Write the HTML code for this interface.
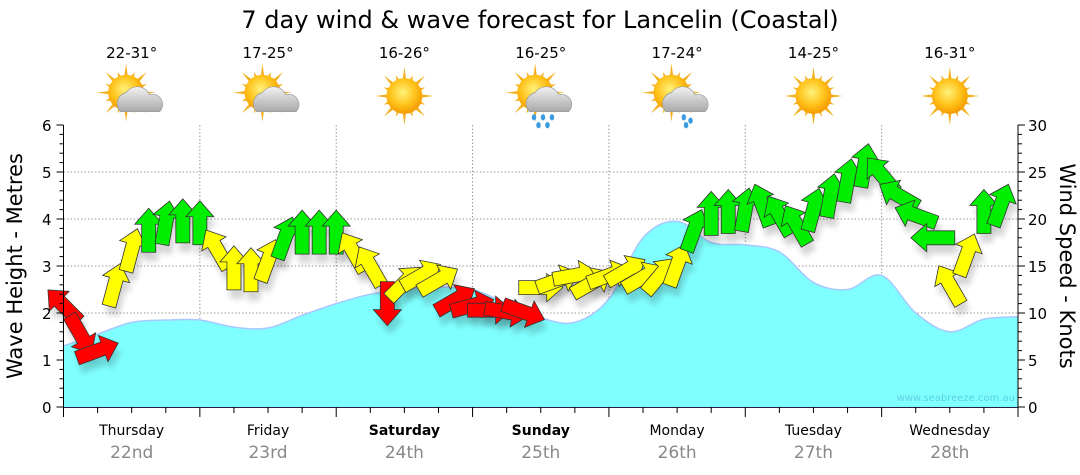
<!DOCTYPE html>
<html><head><meta charset="utf-8">
<style>
html,body{margin:0;padding:0;background:#fff;}
svg{display:block;font-family:"DejaVu Sans","Liberation Sans",sans-serif;}
</style></head>
<body>
<svg id="chart" width="1080" height="475" viewBox="0 0 1080 475" xmlns="http://www.w3.org/2000/svg">
<defs>
<filter id="sh" x="-50%" y="-50%" width="200%" height="200%"><feGaussianBlur stdDeviation="3"/></filter>
<radialGradient id="sun" cx="45%" cy="40%" r="60%"><stop offset="0" stop-color="#fff27a"/><stop offset="0.6" stop-color="#ffc21a"/><stop offset="1" stop-color="#f39a00"/></radialGradient>
<linearGradient id="cloud" x1="0" y1="0" x2="0" y2="1"><stop offset="0" stop-color="#f2f2f2"/><stop offset="1" stop-color="#a8a8a8"/></linearGradient>
</defs>
<text x="540" y="28" text-anchor="middle" font-size="24" fill="#000">7 day wind &amp; wave forecast for Lancelin (Coastal)</text>
<g id="icons"></g>
<g id="grid"></g>
<g id="wave"></g>
<g id="arrows"></g>
<g id="axes"></g>
<text x="1015" y="401" text-anchor="end" font-size="10" fill="#5ccfe0">www.seabreeze.com.au</text>
<text transform="translate(22,266) rotate(-90)" text-anchor="middle" font-size="21" fill="#000">Wave Height - Metres</text>
<text transform="translate(1060,266) rotate(90)" text-anchor="middle" font-size="21" fill="#000">Wind Speed - Knots</text>
</svg>
<script>
const days=["Thursday","Friday","Saturday","Sunday","Monday","Tuesday","Wednesday"];
const dates=["22nd","23rd","24th","25th","26th","27th","28th"];
const boldDays=[false,false,true,true,false,false,false];
const temps=["22-31°","17-25°","16-26°","16-25°","17-24°","14-25°","16-31°"];
const weather=["partly","partly","sun","rain","showers","sun","sun"];
const waveHours=[0,6,12,18,24,30,36,42,48,54,60,66,72,78,84,90,96,102,108,114,120,126,132,138,144,150,156,162,168];
const waveHeights=[1.3,1.55,1.8,1.85,1.85,1.7,1.68,1.95,2.2,2.4,2.5,2.55,2.5,2.2,1.9,1.8,2.3,3.6,3.95,3.5,3.45,3.3,2.65,2.5,2.8,2.0,1.6,1.87,1.92];
const windHours=[0,3,6,9,12,15,18,21,24,27,30,33,36,39,42,45,48,51,54,57,60,63,66,69,72,75,78,81,84,87,90,93,96,99,102,105,108,111,114,117,120,123,126,129,132,135,138,141,144,147,150,153,156,159,162,165];
const windSpeeds=[10.8,7.7,6,13,16.7,18.8,19.6,19.8,19.6,16.8,14.8,14.6,15.6,18.0,18.6,18.6,18.6,16.5,15.0,11.0,13.2,14,13.5,11.4,10.8,10.3,10.1,10.1,12.7,13.5,14,13.2,14,14.5,13.8,14,15.1,18.8,20.6,20.8,21,21.5,20.4,19.4,21,22.5,24.1,25.7,24.7,22.5,20.4,18,13,16.2,20.8,21.5];
const windDirs=[315,150,70,15,15,0,10,0,0,330,0,0,20,20,0,0,0,330,330,180,45,60,60,60,75,90,100,110,90,70,80,60,70,60,60,40,20,20,0,0,10,340,330,330,15,10,10,10,320,300,290,270,330,20,0,20];

const NS="http://www.w3.org/2000/svg";
const X0=63.5,X1=1018,Y0=407,Y1=125;
const xh=h=>X0+(X1-X0)*h/168;
const ym=m=>Y0-(Y0-Y1)*m/6;
const yk=k=>Y0-(Y0-Y1)*k/30;
function mk(tag,attrs,parent){const e=document.createElementNS(NS,tag);for(const k in attrs)e.setAttribute(k,attrs[k]);parent.appendChild(e);return e;}
const grid=document.getElementById('grid'),axes=document.getElementById('axes'),icons=document.getElementById('icons');

for(let m=1;m<=5;m++){const l=mk('line',{x1:X0,x2:X1,y1:ym(m),y2:ym(m),stroke:'#999','stroke-width':1,'stroke-dasharray':'1.5,2'},grid);

}
for(let d=1;d<7;d++){const l=mk('line',{x1:xh(d*24),x2:xh(d*24),y1:Y1,y2:Y0,stroke:'#999','stroke-width':1,'stroke-dasharray':'1.5,2'},grid);

}

(function(){
 const pts=waveHours.map((h,i)=>[xh(h),ym(waveHeights[i])]);
 let d=`M${pts[0][0]},${pts[0][1]}`;
 for(let i=0;i<pts.length-1;i++){const p0=pts[Math.max(0,i-1)],p1=pts[i],p2=pts[i+1],p3=pts[Math.min(pts.length-1,i+2)];
  const c1=[p1[0]+(p2[0]-p0[0])/6,p1[1]+(p2[1]-p0[1])/6],c2=[p2[0]-(p3[0]-p1[0])/6,p2[1]-(p3[1]-p1[1])/6];
  d+=` C${c1[0]},${c1[1]} ${c2[0]},${c2[1]} ${p2[0]},${p2[1]}`;}
 const w=document.getElementById('wave');
 const a=mk('path',{d:d+` L${X1},${Y0} L${X0},${Y0} Z`,fill:'#80ffff'},w);
 
 
 const l=mk('path',{d:d,fill:'none',stroke:'#a8c8ff','stroke-width':1.5},w);
 
 
})();

(function(){
 const g=document.getElementById('arrows');
 const shape="M0,-22 L14,-6 L7,-6 L7,22 L-7,22 L-7,-6 L-14,-6 Z";
 windHours.forEach((h,i)=>{
  const x=xh(h),y=yk(windSpeeds[i]);
  const sh=mk('path',{d:shape,transform:`translate(${x+3},${y+9}) rotate(${windDirs[i]})`,fill:'#000',opacity:0.16,filter:'url(#sh)'},g);
  
  
 });
 windHours.forEach((h,i)=>{
  const x=xh(h),y=yk(windSpeeds[i]),s=windSpeeds[i];
  const col=s<12?'#ff0000':(s<18?'#ffff00':'#00ee00');
  const a=mk('path',{d:shape,transform:`translate(${x},${y}) rotate(${windDirs[i]})`,fill:col,stroke:'#333','stroke-width':0.8},g);
  
  
 });
})();

(function(){
 const l=mk('line',{x1:X0,x2:X0,y1:Y1,y2:Y0,stroke:'#000'},axes);
 
 
 const r=mk('line',{x1:X1,x2:X1,y1:Y1,y2:Y0,stroke:'#000'},axes);
 
 
 const b=mk('line',{x1:X0,x2:X1,y1:Y0+0.5,y2:Y0+0.5,stroke:'#224'},axes);
 
 
 for(let i=0;i<=30;i++){const y=ym(i/5);mk('line',{x1:X0-(i%5?4:7),x2:X0,y1:y,y2:y,stroke:'#000'},axes);
  if(i%5==0){const t=mk('text',{x:X0-12,y:y+6,'text-anchor':'end','font-size':15},axes);t.textContent=i/5;
   
   }}
 for(let k=0;k<=30;k++){const y=yk(k);mk('line',{x1:X1,x2:X1+(k%5?4:7),y1:y,y2:y,stroke:'#000'},axes);
  if(k%5==0){const t=mk('text',{x:X1+10,y:y+6,'font-size':15},axes);t.textContent=k;
   
   }}
 for(let h=0;h<=168;h+=6){const x=xh(h);mk('line',{x1:x,x2:x,y1:Y0,y2:Y0+(h%24?6:10),stroke:'#000'},axes);}
 days.forEach((d,i)=>{const cx=xh(i*24+12);
  const t=mk('text',{x:cx,y:435,'text-anchor':'middle','font-size':14,'font-weight':boldDays[i]?'bold':'normal'},axes);t.textContent=d;
  
  
  const t2=mk('text',{x:cx,y:458,'text-anchor':'middle','font-size':17,fill:'#888'},axes);t2.textContent=dates[i];
  
  
  const t3=mk('text',{x:cx,y:58,'text-anchor':'middle','font-size':15},icons);t3.textContent=temps[i];
  
  
  const g=mk('g',{transform:`translate(${cx},${96}) scale(1.12)`},icons);
  
  
  const sx=weather[i]=='sun'?0:-5,sy=weather[i]=='sun'?0:-3;
  for(let a=0;a<16;a++){const ang=a*Math.PI/8,L=a%2?20:26;
   mk('path',{d:`M${sx+Math.cos(ang-0.12)*14},${sy+Math.sin(ang-0.12)*14} L${sx+Math.cos(ang)*L},${sy+Math.sin(ang)*L} L${sx+Math.cos(ang+0.12)*14},${sy+Math.sin(ang+0.12)*14}Z`,fill:'#f4b020'},g);}
  mk('circle',{cx:sx,cy:sy,r:16,fill:'url(#sun)'},g);
  if(weather[i]!='sun'){
   mk('path',{d:"M-10,14 a10,10 0 0 1 5,-17 a12,12 0 0 1 21,2 a9,9 0 0 1 9,15 Z",fill:'url(#cloud)',stroke:'#999','stroke-width':0.6},g);
  }
  if(weather[i]=='rain'||weather[i]=='showers'){
   const drops=weather[i]=='rain'?[[-6,19],[2,19],[10,19],[-2,26],[6,26]]:[[6,19],[12,22],[8,26]];
   drops.forEach(p=>mk('ellipse',{cx:p[0],cy:p[1],rx:2,ry:2.8,fill:'#3b9be0'},g));}
 });
})();
</script>
</body></html>
